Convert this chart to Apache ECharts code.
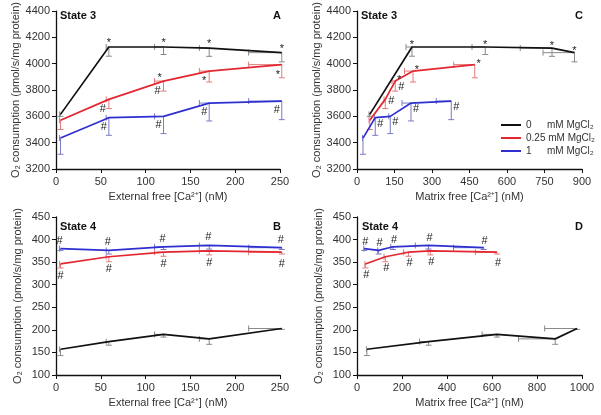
<!DOCTYPE html>
<html><head><meta charset="utf-8">
<script src="https://cdn.jsdelivr.net/npm/echarts@6/dist/echarts.min.js"></script>
<style>html,body{margin:0;padding:0;background:#fff}#c{width:601px;height:415px}</style>
</head><body><div id="c"></div>
<script>
// ================= DATA =================
const seriesNames = ['0', '0.25', '1']; // mM MgCl2

// External free [Ca2+] (nM), panels A and B (mean and SD)
const extCa   = [5, 59, 120, 171, 252];
const extCaSd = [1, 3, 10, 11, 37];

// State 3 O2 consumption (pmol/s/mg protein), mean and SD
const s3_0     = [3615, 4127, 4127, 4119, 4084];
const s3_025   = [3570, 3729, 3868, 3944, 3993];
const s3_1     = [3435, 3590, 3600, 3701, 3716];
const s3Sd_0   = [15, 70, 57, 63, 70];
const s3Sd_025 = [70, 70, 76, 83, 100];
const s3Sd_1   = [123, 134, 131, 136, 141];

// State 4 O2 consumption, mean and SD
const s4_0     = [157, 174, 190, 180, 203];
const s4_025   = [346, 362, 372, 375, 372];
const s4_1     = [380, 376, 384, 387, 382];
const s4Sd_0   = [14, 8, 6, 12, 2];
const s4Sd_025 = [9, 11, 9, 9, 4];
const s4Sd_1   = [4, 8, 6, 8, 4];

// Matrix free [Ca2+] (nM) in state 3 (panel C)
const matS3_0     = [51, 220, 513, 780, 870];
const matS3Sd_0   = [3, 24, 53, 127, 126];
const matS3_025   = [51, 113, 153, 224, 471];
const matS3Sd_025 = [3, 5, 13, 34, 84];
const matS3_1     = [24, 73, 133, 216, 377];
const matS3Sd_1   = [2, 4, 6, 36, 60];

// Matrix free [Ca2+] (nM) in state 4 (panel D)
const matS4_0     = [44, 318, 622, 881, 978];
const matS4Sd_0   = [2, 40, 66, 163, 144];
const matS4_025   = [37, 126, 229, 326, 622];
const matS4Sd_025 = [2, 6, 22, 10, 96];
const matS4_1     = [32, 96, 160, 318, 563];
const matS4Sd_1   = [2, 4, 10, 59, 134];

// Significance marks
const star3_0   = ['', '*', '*', '*', '*'];
const star3_025 = ['', '', '*', '*', '*'];
const hash3_025 = ['', '#', '#', '', ''];
const hash3_1   = ['', '#', '#', '#', '#'];
const hash4_025 = ['#', '#', '#', '#', '#'];
const hash4_1   = ['#', '#', '#', '#', '#'];

// Axis ticks
const ticksS3 = { min: 3200, max: 4400, interval: 200 };
const ticksS4 = { min: 100, max: 450, interval: 50 };
const ticksExt = { min: 0, max: 250, interval: 50 };
const ticksMatS3 = { min: 0, max: 900, interval: 150 };
const ticksMatS4 = { min: 0, max: 1000, interval: 200 };

const xTitleExt = 'External free [Ca²⁺] (nM)';
const xTitleMat = 'Matrix free [Ca²⁺] (nM)';
const yTitle = 'O₂ consumption (pmol/s/mg protein)';

// ================= STYLE =================
const FONT = '"Liberation Sans", Arial, sans-serif';
const lineColors = ['#111111', '#e3262f', '#2f2fd0'];
const barColors  = ['#8a8a8a', '#e47a7a', '#7a7ac8'];

// visual offsets (px) of significance marks from their data point
const markStyle = {
  A: { '0*': [0, -7], '0.25*': [[0,0],[0,0],[-4,-6],[-5,7],[-4,7]], '0.25#': [-6, 10], '1#': [-5, 9] },
  C: { '0*': [0, -5], '0.25*': [4, -4], '0.25#': [[0,0],[6,2],[6,6],[0,0],[0,0]], '1#': [5, 6] },
  B: { '0.25#': [0, 12], '1#': [-1, -8] },
  D: { '0.25#': [1, 11], '1#': [1, -7] }
};

const grids = [
  { left: 56, top: 11, width: 224, height: 158 },   // A
  { left: 357, top: 11, width: 225, height: 158 },  // C
  { left: 56, top: 217, width: 224, height: 158 },  // B
  { left: 357, top: 217, width: 225, height: 158 }  // D
];

const panels = [
  { id: 'A', grid: 0, xt: ticksExt, yt: ticksS3, xName: xTitleExt,
    xs: [extCa, extCa, extCa], xsd: [extCaSd, extCaSd, extCaSd],
    ys: [s3_0, s3_025, s3_1], ysd: [s3Sd_0, s3Sd_025, s3Sd_1],
    stars: [star3_0, star3_025, null], hashes: [null, hash3_025, hash3_1] },
  { id: 'C', grid: 1, xt: ticksMatS3, yt: ticksS3, xName: xTitleMat,
    xs: [matS3_0, matS3_025, matS3_1], xsd: [matS3Sd_0, matS3Sd_025, matS3Sd_1],
    ys: [s3_0, s3_025, s3_1], ysd: [s3Sd_0, s3Sd_025, s3Sd_1],
    stars: [star3_0, star3_025, null], hashes: [null, hash3_025, hash3_1] },
  { id: 'B', grid: 2, xt: ticksExt, yt: ticksS4, xName: xTitleExt,
    xs: [extCa, extCa, extCa], xsd: [extCaSd, extCaSd, extCaSd],
    ys: [s4_0, s4_025, s4_1], ysd: [s4Sd_0, s4Sd_025, s4Sd_1],
    stars: [null, null, null], hashes: [null, hash4_025, hash4_1] },
  { id: 'D', grid: 3, xt: ticksMatS4, yt: ticksS4, xName: xTitleMat,
    xs: [matS4_0, matS4_025, matS4_1], xsd: [matS4Sd_0, matS4Sd_025, matS4Sd_1],
    ys: [s4_0, s4_025, s4_1], ysd: [s4Sd_0, s4Sd_025, s4Sd_1],
    stars: [null, null, null], hashes: [null, hash4_025, hash4_1] }
];

const axisCommon = {
  axisLine: { lineStyle: { color: '#111', width: 1.3 } },
  axisTick: { show: true, inside: false, length: 4, lineStyle: { color: '#111', width: 1 } },
  axisLabel: { fontSize: 11, color: '#333', fontFamily: FONT, formatter: v => String(v) },
  splitLine: { show: false },
  nameTextStyle: { fontSize: 11, color: '#333', fontFamily: FONT }
};

const xAxes = [], yAxes = [], series = [];

function errRender(color) {
  return function (params, api) {
    const x = api.value(0), y = api.value(1), ey = api.value(2), ex = api.value(3);
    const p = api.coord([x, y]);
    const pb = api.coord([x, y - ey]);
    const pl = api.coord([x - ex, y]);
    const c = 3;
    const st = { stroke: color, lineWidth: 1, fill: null };
    const ch = [];
    if (ey > 0) {
      ch.push({ type: 'line', shape: { x1: p[0], y1: p[1], x2: pb[0], y2: pb[1] }, style: st });
      ch.push({ type: 'line', shape: { x1: pb[0] - c, y1: pb[1], x2: pb[0] + c, y2: pb[1] }, style: st });
    }
    if (ex > 0) {
      ch.push({ type: 'line', shape: { x1: p[0], y1: p[1], x2: pl[0], y2: pl[1] }, style: st });
      ch.push({ type: 'line', shape: { x1: pl[0], y1: pl[1] - c, x2: pl[0], y2: pl[1] + c }, style: st });
    }
    return { type: 'group', children: ch };
  };
}

panels.forEach((pn, pi) => {
  xAxes.push(Object.assign({}, axisCommon, {
    type: 'value', gridIndex: pn.grid, min: pn.xt.min, max: pn.xt.max, interval: pn.xt.interval,
    name: pn.xName, nameLocation: 'middle', nameGap: 22,
    axisLabel: Object.assign({}, axisCommon.axisLabel, { margin: 7 })
  }));
  yAxes.push(Object.assign({}, axisCommon, {
    type: 'value', gridIndex: pn.grid, min: pn.yt.min, max: pn.yt.max, interval: pn.yt.interval,
    name: yTitle, nameLocation: 'middle', nameGap: 33, nameRotate: 90,
    axisLabel: Object.assign({}, axisCommon.axisLabel, { margin: 6 })
  }));

  const marks = [];
  seriesNames.forEach((nm, si) => {
    const xs = pn.xs[si], ys = pn.ys[si];
    // error bars (unnamed so the legend uses the line series)
    series.push({
      type: 'custom', xAxisIndex: pi, yAxisIndex: pi, z: 1, clip: false, silent: true,
      renderItem: errRender(barColors[si]),
      data: xs.map((x, i) => [x, ys[i], pn.ysd[si][i], pn.xsd[si][i]])
    });
    // lines
    series.push({
      type: 'line', name: nm, xAxisIndex: pi, yAxisIndex: pi, z: 3, clip: false,
      symbol: 'none', showSymbol: false, silent: true,
      lineStyle: { color: lineColors[si], width: 1.7 },
      itemStyle: { color: lineColors[si] },
      data: xs.map((x, i) => [x, ys[i]])
    });
    [['*', pn.stars[si]], ['#', pn.hashes[si]]].forEach(([kind, arr]) => {
      if (!arr) return;
      const off = markStyle[pn.id][nm + kind];
      arr.forEach((t, i) => {
        if (!t) return;
        const o = Array.isArray(off[0]) ? off[i] : off;
        marks.push({ x: xs[i], y: ys[i], text: t, dx: o[0], dy: o[1] + (t === '*' ? 3 : 0) });
      });
    });
  });
  series.push({
    type: 'custom', xAxisIndex: pi, yAxisIndex: pi, z: 5, clip: false, silent: true,
    renderItem: function (params, api) {
      const m = marks[params.dataIndex];
      const p = api.coord([api.value(0), api.value(1)]);
      return { type: 'text', style: { text: m.text, x: p[0] + m.dx, y: p[1] + m.dy,
        align: 'center', verticalAlign: 'middle', fill: '#222', fontSize: 11, fontFamily: FONT } };
    },
    data: marks.map(m => [m.x, m.y])
  });
});

const titleStyle = { fontSize: 11, fontWeight: 'bold', color: '#111', fontFamily: FONT };
const titles = [
  { text: 'State 3', left: 60, top: 10 }, { text: 'A', left: 273, top: 10 },
  { text: 'State 3', left: 361, top: 10 }, { text: 'C', left: 575, top: 10 },
  { text: 'State 4', left: 60, top: 221 }, { text: 'B', left: 273, top: 221 },
  { text: 'State 4', left: 362, top: 221 }, { text: 'D', left: 575, top: 221 }
].map(t => Object.assign(t, { padding: 0, textStyle: titleStyle }));

const chart = echarts.init(document.getElementById('c'), null, { renderer: 'canvas' });
chart.setOption({
  backgroundColor: '#fff',
  animation: false,
  title: titles,
  grid: grids,
  xAxis: xAxes,
  yAxis: yAxes,
  legend: {
    data: seriesNames, orient: 'vertical', left: 500, top: 120,
    itemWidth: 20, itemHeight: 10, itemGap: 3, padding: 0,
    selectedMode: false,
    itemStyle: { opacity: 0 },
    lineStyle: { width: 2 },
    formatter: name => name === '0.25' ? '0.25 mM MgCl₂' : `{n|${name}}mM MgCl₂`,
    textStyle: { fontSize: 10, color: '#333', fontFamily: FONT,
      rich: { n: { width: 21, fontSize: 10, color: '#333', fontFamily: FONT } } }
  },
  series: series
});
</script></body></html>
